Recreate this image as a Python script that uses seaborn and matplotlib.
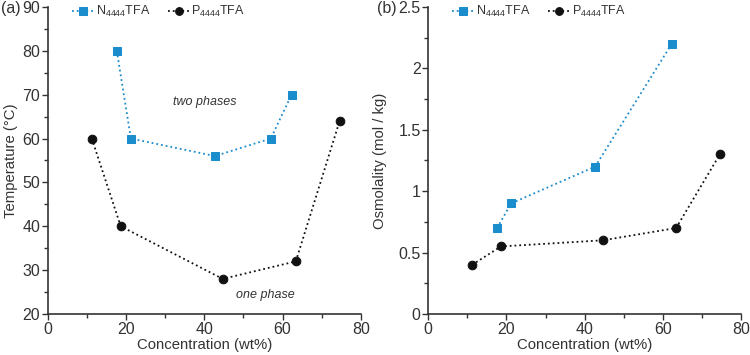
import matplotlib
matplotlib.use("Agg")
import matplotlib.pyplot as plt
import seaborn as sns
from matplotlib.ticker import MultipleLocator, FuncFormatter

sns.set_theme(style="ticks")
plt.rcParams['font.family'] = ['Liberation Sans', 'DejaVu Sans']
plt.rcParams['mathtext.fontset'] = 'custom'
plt.rcParams['mathtext.rm'] = 'Liberation Sans'

n_conc = [17.6, 21.2, 42.7, 57.0, 62.3]
n_temp = [80, 60, 56, 60, 70]
p_conc = [11.2, 18.6, 44.7, 63.4, 74.6]
p_temp = [60, 40, 28, 32, 64]

n_osm_conc = [17.6, 21.2, 42.7, 62.3]
n_osm = [0.7, 0.9, 1.2, 2.2]
p_osm_conc = [11.2, 18.6, 44.7, 63.4, 74.6]
p_osm = [0.4, 0.55, 0.6, 0.7, 1.3]

blue = "#1b8ccc"
black = "#111111"
n_label = r"N$_\mathrm{4444}$TFA"
p_label = r"P$_\mathrm{4444}$TFA"

fig = plt.figure(figsize=(7.5, 3.55), dpi=100)
axa = fig.add_axes([0.064, 0.1155, 0.417, 0.865])
axb = fig.add_axes([0.571, 0.1155, 0.417, 0.865])

def draw(ax, nx, ny, px, py):
    sns.lineplot(x=nx, y=ny, ax=ax, color=blue, linestyle=":", marker="s",
                 markersize=6, markeredgecolor=blue, linewidth=1.3, label=n_label, sort=False)
    sns.lineplot(x=px, y=py, ax=ax, color=black, linestyle=":", marker="o",
                 markersize=6.2, markeredgecolor=black, linewidth=1.3, label=p_label, sort=False)
    sns.despine(ax=ax)
    ax.set_xlim(0, 80)
    ax.xaxis.set_major_locator(MultipleLocator(20))
    ax.xaxis.set_minor_locator(MultipleLocator(10))
    ax.tick_params(which="major", length=4, width=1, labelsize=11.5, direction="out", pad=1.5,
                   labelcolor="#333333")
    ax.tick_params(which="minor", length=3, width=1, direction="out")
    ax.tick_params(axis="both", which="both", bottom=True, left=True, color="#333333")
    for s in ax.spines.values():
        s.set_linewidth(1.2)
        s.set_color("#333333")
    ax.set_xlabel("Concentration (wt%)", fontsize=10.7, labelpad=1, color="#333333")
    ax.legend(loc="upper left", bbox_to_anchor=(0.04, 1.045), ncol=2, frameon=False,
              fontsize=9, handlelength=1.8, columnspacing=1.4, handletextpad=0.1,
              labelcolor="#333333", markerscale=0.9)

draw(axa, n_conc, n_temp, p_conc, p_temp)
axa.set_ylim(20, 90)
axa.yaxis.set_major_locator(MultipleLocator(10))
axa.yaxis.set_minor_locator(MultipleLocator(5))
axa.set_ylabel("Temperature (°C)", fontsize=10.7, labelpad=3, color="#333333")
axa.text(40, 68.3, "two phases", style="italic", fontsize=9, ha="center", va="center", color="#333333")
axa.text(55.7, 24.3, "one phase", style="italic", fontsize=9, ha="center", va="center", color="#333333")
fig.text(0.001, 0.975, "(a)", fontsize=11.5, ha="left", va="center", color="#333333")

draw(axb, n_osm_conc, n_osm, p_osm_conc, p_osm)
axb.set_ylim(0, 2.5)
axb.yaxis.set_major_locator(MultipleLocator(0.5))
axb.yaxis.set_minor_locator(MultipleLocator(0.25))
axb.yaxis.set_major_formatter(FuncFormatter(lambda v, _: f"{v:g}"))
axb.set_ylabel("Osmolality (mol / kg)", fontsize=10.7, labelpad=8, color="#333333")
fig.text(0.502, 0.975, "(b)", fontsize=11.5, ha="left", va="center", color="#333333")

fig.savefig("out.png", dpi=100)
